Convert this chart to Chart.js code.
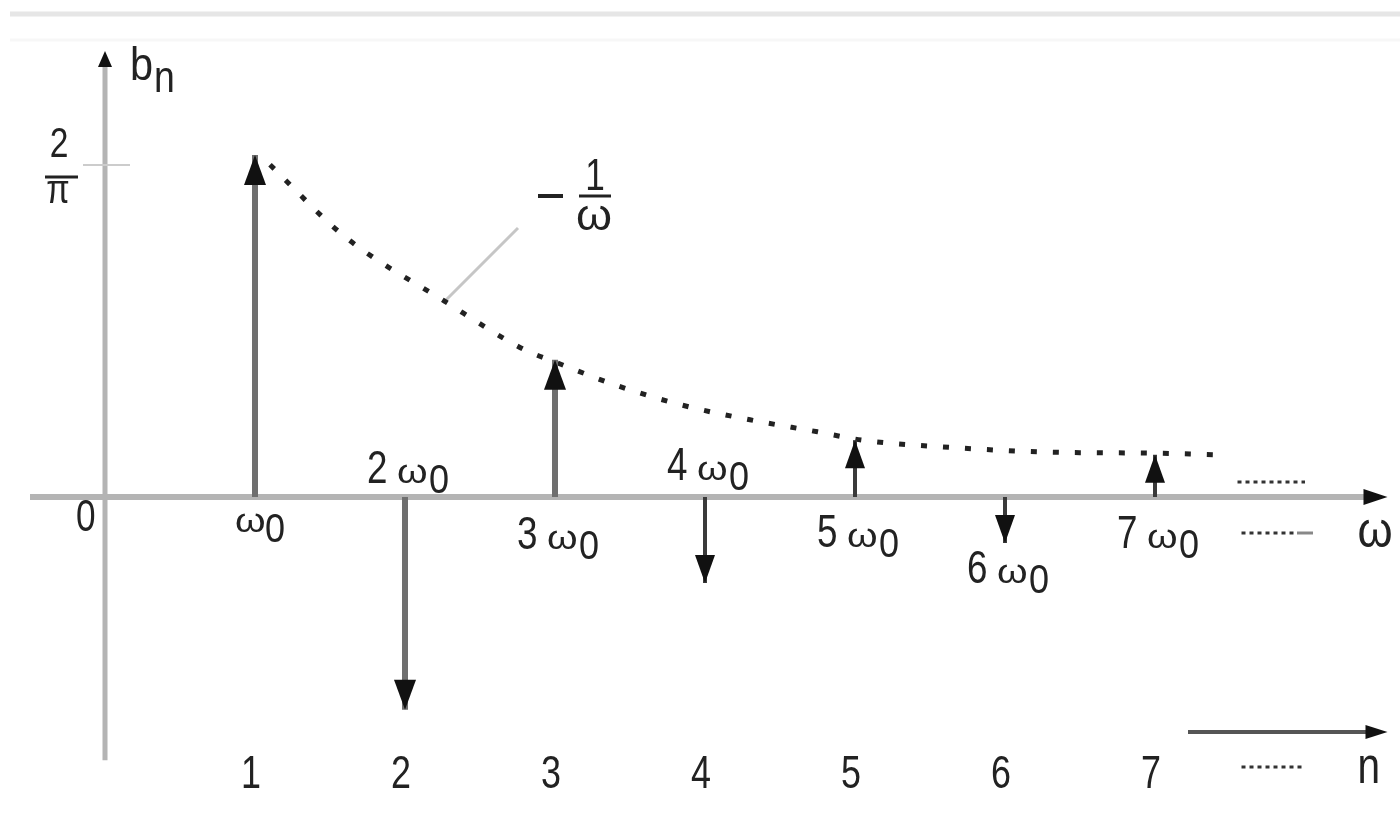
<!DOCTYPE html>
<html>
<head>
<meta charset="utf-8">
<title>Fourier coefficients b_n</title>
<script src="https://cdn.jsdelivr.net/npm/chart.js@4.4.1/dist/chart.umd.min.js"></script>
<style>
  html, body { margin: 0; padding: 0; background: #fff; }
  #wrap { width: 1400px; height: 813px; position: relative; }
</style>
</head>
<body>
<div id="wrap"><canvas id="spectrum"></canvas></div>
<script>
// harmonic number n and the value of b_n read from the arrow tips
const harmonics = [1, 2, 3, 4, 5, 6, 7];
const coefficients = [0.656, -0.408, 0.263, -0.165, 0.109, -0.088, 0.081];
const multiplierLabels = ['', '2', '3', '4', '5', '6', '7'];
const indexLabels = ['1', '2', '3', '4', '5', '6', '7'];

// dotted envelope ~ 1/omega (omega in units of omega0)
const envelopeOmega = [1.1, 1.6, 2.25, 2.8, 3.0, 3.4, 3.85, 4.3, 4.75, 5.05, 5.7, 6.3, 7.0, 7.42];
const envelopeValue = [0.637, 0.499, 0.378, 0.282, 0.259, 0.215, 0.176, 0.148, 0.125, 0.109, 0.094, 0.086, 0.084, 0.081];

const TWO_OVER_PI = 2 / Math.PI;
const INK = '#222';

function txt(ctx, str, x, y, size, sx = 0.85, align = 'left') {
  ctx.save();
  ctx.font = `${size}px "Liberation Sans", Arial, sans-serif`;
  ctx.translate(x, y);
  ctx.scale(sx, 1);
  ctx.textAlign = align;
  ctx.textBaseline = 'alphabetic';
  ctx.fillStyle = INK;
  ctx.fillText(str, 0, 0);
  ctx.restore();
}

function seg(ctx, x1, y1, x2, y2, color, width, dash = []) {
  ctx.save();
  ctx.strokeStyle = color;
  ctx.lineWidth = width;
  ctx.setLineDash(dash);
  ctx.beginPath();
  ctx.moveTo(x1, y1);
  ctx.lineTo(x2, y2);
  ctx.stroke();
  ctx.restore();
}

// filled arrow head, tip at (x, y), pointing in direction (dx, dy)
function head(ctx, x, y, dx, dy, len, half, color = '#111') {
  ctx.save();
  ctx.fillStyle = color;
  ctx.beginPath();
  ctx.moveTo(x, y);
  ctx.lineTo(x - dx * len - dy * half, y - dy * len + dx * half);
  ctx.lineTo(x - dx * len + dy * half, y - dy * len - dx * half);
  ctx.closePath();
  ctx.fill();
  ctx.restore();
}

const diagram = {
  id: 'diagram',
  beforeDatasetsDraw(chart) {
    const { ctx, scales: { x, y } } = chart;
    const x0 = x.getPixelForValue(0);
    const y0 = y.getPixelForValue(0);

    // faint page rule at the very top
    seg(ctx, 10, 14, 1400, 14, '#e6e6e6', 5);
    seg(ctx, 10, 40, 1400, 40, '#f7f7f7', 3);

    // axes
    seg(ctx, x.getPixelForValue(-0.5), y0, x.getPixelForValue(8.45), y0, '#b4b4b4', 6);
    seg(ctx, x0, y.getPixelForValue(-0.505), x0, y.getPixelForValue(0.84), '#b4b4b4', 5);

    // 2/pi tick
    const yt = y.getPixelForValue(TWO_OVER_PI);
    seg(ctx, x0 - 22, yt, x0 + 25, yt, '#cccccc', 2);

    // leader line for the -1/omega label
    seg(ctx, 443, 303, 518, 228, '#c6c6c6', 3);
  },
  afterDatasetsDraw(chart) {
    const { ctx, scales: { x, y } } = chart;
    const x0 = x.getPixelForValue(0);
    const y0 = y.getPixelForValue(0);

    // axis arrow heads
    head(ctx, x.getPixelForValue(8.55), y0, 1, 0, 24, 8);
    head(ctx, x0, y.getPixelForValue(0.855), 0, -1, 16, 7);

    // stem arrow heads from the tip points
    const tips = chart.getDatasetMeta(1).data;
    tips.forEach((el, i) => {
      const dir = coefficients[i] >= 0 ? -1 : 1;
      const big = harmonics[i] <= 3;
      head(ctx, el.x, el.y, 0, dir, big ? 30 : 28, big ? 11 : 10);
    });

    // harmonic labels k*omega0 (offset of baseline from the axis)
    const drop = [35, -14, 52, -17, 50, 86, 51];
    tips.forEach((el, i) => {
      const base = y0 + drop[i];
      if (multiplierLabels[i] === '') {
        txt(ctx, 'ω', el.x - 20, base, 34, 1.15);
        txt(ctx, '0', el.x + 10, base + 10, 40, 0.9);
      } else {
        txt(ctx, multiplierLabels[i], el.x - 38, base, 46, 0.8);
        txt(ctx, 'ω', el.x - 8, base, 34, 1.15);
        txt(ctx, '0', el.x + 24, base + 10, 40, 0.9);
      }
      // harmonic index row
      txt(ctx, indexLabels[i], el.x - 4, 788, 46, 0.78, 'center');
    });

    // origin
    txt(ctx, '0', x0 - 29, 531, 44, 0.8);

    // b_n
    txt(ctx, 'b', x0 + 25, 80, 46, 0.9);
    txt(ctx, 'n', x0 + 49, 92, 44, 0.85);

    // 2/pi
    const yt = y.getPixelForValue(TWO_OVER_PI);
    txt(ctx, '2', x0 - 46, yt - 8, 42, 0.8, 'center');
    seg(ctx, x0 - 60, yt + 12, x0 - 27, yt + 12, INK, 3);
    txt(ctx, 'π', x0 - 47, yt + 38, 40, 0.85, 'center');

    // -1/omega
    ctx.fillStyle = INK;
    ctx.fillRect(538, 194, 25, 4);
    txt(ctx, '1', 595, 190, 44, 0.8, 'center');
    seg(ctx, 579, 196, 611, 196, INK, 3);
    txt(ctx, 'ω', 594, 230, 44, 1.05, 'center');

    // continuation dots and the omega axis name
    const xd0 = x.getPixelForValue(7.55);
    const xd1 = x.getPixelForValue(8.0);
    seg(ctx, xd0, y0 - 15, xd1, y0 - 15, '#333', 3, [4, 4]);
    seg(ctx, xd0 + 4, y0 + 36, xd1 - 8, y0 + 36, '#333', 3, [4, 4]);
    seg(ctx, xd1 - 8, y0 + 36, xd1 + 8, y0 + 36, '#888', 3);
    txt(ctx, 'ω', x.getPixelForValue(8.35), y0 + 50, 50, 0.9);

    // n axis arrow
    const xa = x.getPixelForValue(7.22);
    const xb = x.getPixelForValue(8.55);
    seg(ctx, xa, 732, xb - 18, 732, '#555', 4);
    head(ctx, xb, 732, 1, 0, 22, 7);
    seg(ctx, xd0 + 4, 767, xd1, 767, '#333', 3, [4, 4]);
    txt(ctx, 'n', x.getPixelForValue(8.35), 783, 52, 0.78);
  }
};

const stemPoints = harmonics.flatMap((n, i) => [
  { x: n, y: 0 },
  { x: n, y: coefficients[i] },
  { x: n, y: null }
]);

new Chart(document.getElementById('spectrum'), {
  type: 'scatter',
  data: {
    datasets: [
      {
        type: 'line',
        label: 'stems',
        data: stemPoints,
        spanGaps: false,
        pointRadius: 0,
        borderColor: '#6f6f6f',
        borderWidth: 6,
        segment: {
          borderColor: (c) => (c.p0.parsed.x <= 3 ? '#6f6f6f' : '#3a3a3a'),
          borderWidth: (c) => (c.p0.parsed.x <= 3 ? 6 : 4)
        }
      },
      {
        label: 'tips',
        data: harmonics.map((n, i) => ({ x: n, y: coefficients[i] })),
        pointRadius: 0
      },
      {
        type: 'line',
        label: '-1/ω envelope',
        data: envelopeOmega.map((w, i) => ({ x: w, y: envelopeValue[i] })),
        borderColor: '#222',
        borderWidth: 5,
        borderDash: [6, 16],
        cubicInterpolationMode: 'monotone',
        pointRadius: 0
      }
    ]
  },
  options: {
    responsive: true,
    maintainAspectRatio: false,
    animation: false,
    events: [],
    layout: { padding: 0 },
    plugins: {
      legend: { display: false },
      tooltip: { enabled: false }
    },
    scales: {
      x: { type: 'linear', display: false, min: -0.7, max: 8.6333 },
      y: { type: 'linear', display: false, min: -0.60594, max: 0.95302 }
    }
  },
  plugins: [diagram]
});
</script>
</body>
</html>
